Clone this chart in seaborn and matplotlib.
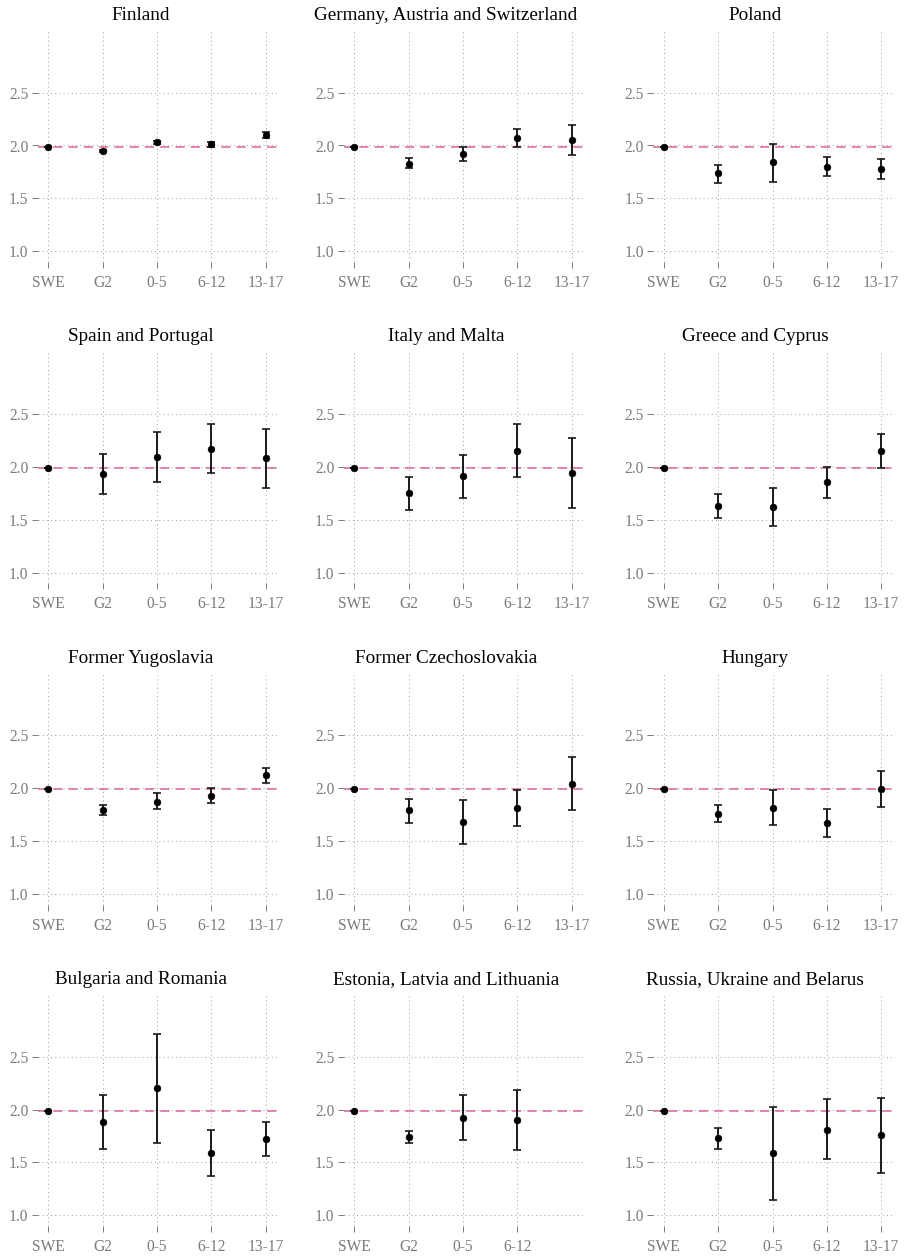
import matplotlib
matplotlib.use("Agg")
import matplotlib.pyplot as plt
import seaborn as sns
import pandas as pd

# ---------------- data ----------------
categories = ["SWE", "G2", "0-5", "6-12", "13-17"]
swe_reference = 1.99

regions = ["Finland", "Germany, Austria and Switzerland", "Poland",
           "Spain and Portugal", "Italy and Malta", "Greece and Cyprus",
           "Former Yugoslavia", "Former Czechoslovakia", "Hungary",
           "Bulgaria and Romania", "Estonia, Latvia and Lithuania",
           "Russia, Ukraine and Belarus"]

finland_mean = [1.99, 1.95, 2.03, 2.01, 2.10]
finland_low  = [1.99, 1.94, 2.01, 1.99, 2.07]
finland_high = [1.99, 1.96, 2.04, 2.03, 2.13]

germany_mean = [1.99, 1.83, 1.92, 2.07, 2.05]
germany_low  = [1.99, 1.79, 1.85, 1.99, 1.91]
germany_high = [1.99, 1.88, 1.99, 2.16, 2.19]

poland_mean = [1.99, 1.74, 1.84, 1.80, 1.78]
poland_low  = [1.99, 1.65, 1.66, 1.71, 1.68]
poland_high = [1.99, 1.82, 2.01, 1.89, 1.87]

spain_mean = [1.99, 1.93, 2.09, 2.17, 2.08]
spain_low  = [1.99, 1.74, 1.86, 1.94, 1.80]
spain_high = [1.99, 2.12, 2.33, 2.40, 2.36]

italy_mean = [1.99, 1.75, 1.91, 2.15, 1.94]
italy_low  = [1.99, 1.59, 1.71, 1.90, 1.61]
italy_high = [1.99, 1.90, 2.11, 2.40, 2.27]

greece_mean = [1.99, 1.63, 1.62, 1.86, 2.15]
greece_low  = [1.99, 1.52, 1.44, 1.71, 1.99]
greece_high = [1.99, 1.74, 1.80, 2.00, 2.31]

yugoslavia_mean = [1.99, 1.79, 1.87, 1.93, 2.12]
yugoslavia_low  = [1.99, 1.75, 1.80, 1.86, 2.05]
yugoslavia_high = [1.99, 1.84, 1.95, 2.00, 2.19]

czech_mean = [1.99, 1.79, 1.68, 1.81, 2.04]
czech_low  = [1.99, 1.67, 1.47, 1.64, 1.79]
czech_high = [1.99, 1.90, 1.89, 1.98, 2.29]

hungary_mean = [1.99, 1.76, 1.81, 1.67, 1.99]
hungary_low  = [1.99, 1.68, 1.65, 1.54, 1.82]
hungary_high = [1.99, 1.84, 1.98, 1.80, 2.16]

bulgaria_mean = [1.99, 1.88, 2.20, 1.59, 1.72]
bulgaria_low  = [1.99, 1.63, 1.68, 1.37, 1.56]
bulgaria_high = [1.99, 2.14, 2.71, 1.81, 1.88]

baltic_mean = [1.99, 1.74, 1.92, 1.90]
baltic_low  = [1.99, 1.68, 1.71, 1.62]
baltic_high = [1.99, 1.80, 2.14, 2.18]

russia_mean = [1.99, 1.73, 1.59, 1.81, 1.76]
russia_low  = [1.99, 1.63, 1.15, 1.53, 1.40]
russia_high = [1.99, 1.83, 2.02, 2.10, 2.11]

means = [finland_mean, germany_mean, poland_mean, spain_mean, italy_mean,
         greece_mean, yugoslavia_mean, czech_mean, hungary_mean,
         bulgaria_mean, baltic_mean, russia_mean]
lows = [finland_low, germany_low, poland_low, spain_low, italy_low,
        greece_low, yugoslavia_low, czech_low, hungary_low,
        bulgaria_low, baltic_low, russia_low]
highs = [finland_high, germany_high, poland_high, spain_high, italy_high,
         greece_high, yugoslavia_high, czech_high, hungary_high,
         bulgaria_high, baltic_high, russia_high]

y_ticks = [1.0, 1.5, 2.0, 2.5]

# ---------------- style ----------------
sns.set_theme(style="white")
plt.rcParams["font.family"] = ["Liberation Serif", "DejaVu Serif"]

W, H = 908, 1258
fig = plt.figure(figsize=(W / 100, H / 100), dpi=100)

col_left = [37.5, 343.5, 653.0]
col_title = [141, 446, 755]
row_top = [29.0, 350.3, 671.6, 993.0]
pw, ph = 239.0, 233.0

text_grey = "#7a7a7a"
grid_grey = "#a8a8a8"
pink = "#d8649f"

for i, name in enumerate(regions):
    r, c = divmod(i, 3)
    ax = fig.add_axes([col_left[c] / W, 1 - (row_top[r] + ph) / H, pw / W, ph / H])
    n = len(means[i])
    cats = categories[:n]
    df = pd.DataFrame({"group": cats, "mean": means[i],
                       "low": lows[i], "high": highs[i]})

    yerr = [df["mean"] - df["low"], df["high"] - df["mean"]]
    ax.errorbar(df["group"], df["mean"], yerr=yerr, fmt="none",
                ecolor="#1a1a1a", elinewidth=1.4, capsize=3.0,
                capthick=1.2, zorder=4)
    sns.scatterplot(data=df, x="group", y="mean", ax=ax, color="black",
                    s=24, edgecolor="black", linewidth=0.4, zorder=5,
                    legend=False)

    ax.axhline(swe_reference, color=pink, linewidth=1.1,
               linestyle=(0, (6, 4)), zorder=3)

    ax.set_xlim(-0.2, 4.2)
    ax.set_ylim(0.9, 3.1)
    ax.set_yticks(y_ticks)
    ax.set_yticklabels([f"{v:.1f}" for v in y_ticks])
    ax.set_xticks(range(n))
    ax.set_xticklabels(cats)
    ax.set_xlabel("")
    ax.set_ylabel("")

    ax.grid(True, color=grid_grey, linestyle=(0, (1, 3)), linewidth=0.75)
    ax.set_axisbelow(True)
    for s in ax.spines.values():
        s.set_visible(False)
    ax.set_facecolor("white")
    ax.tick_params(axis="both", colors=text_grey, labelcolor=text_grey,
                   labelsize=11.2, length=4.5, width=0.7, pad=2.0,
                   left=True, bottom=True)
    ax.tick_params(axis="x", pad=5)

    fig.text(col_title[c] / W, 1 - (20 + r * 321.3) / H, name,
             ha="center", va="baseline", fontsize=13.8, color="black")

fig.savefig("out.png", dpi=100, facecolor="white")
